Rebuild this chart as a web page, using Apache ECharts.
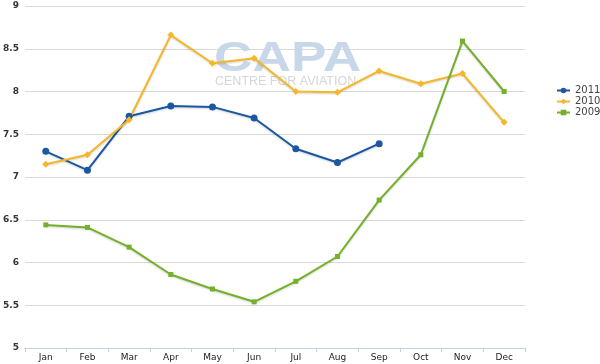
<!DOCTYPE html>
<html>
<head>
<meta charset="utf-8">
<script src="https://cdn.jsdelivr.net/npm/echarts@6/dist/echarts.min.js"></script>
<style>html,body{margin:0;padding:0;background:#fff}#c{width:600px;height:364px}</style>
</head>
<body>
<div id="c"></div>
<script>
var months = ['Jan','Feb','Mar','Apr','May','Jun','Jul','Aug','Sep','Oct','Nov','Dec'];
var s2011 = [7.30, 7.08, 7.71, 7.83, 7.82, 7.69, 7.33, 7.17, 7.39];
var s2010 = [7.15, 7.26, 7.67, 8.66, 8.33, 8.39, 8.00, 7.99, 8.24, 8.09, 8.21, 7.64];
var s2009 = [6.44, 6.41, 6.18, 5.86, 5.69, 5.54, 5.78, 6.07, 6.73, 7.26, 8.59, 8.00];
var yTicks = [5, 5.5, 6, 6.5, 7, 7.5, 8, 8.5, 9];

var chart = echarts.init(document.getElementById('c'), null, {renderer: 'canvas'});
var font = 'DejaVu Sans';
function line(name, data, color, symbol, size) {
  return {
    name: name, type: 'line', data: data, symbol: symbol, symbolSize: size,
    showSymbol: true,
    lineStyle: {color: color, width: 2, shadowColor: 'rgba(0,0,0,0.18)', shadowBlur: 2, shadowOffsetY: 1},
    itemStyle: {color: color},
    emphasis: {disabled: true}, animation: false, z: 3
  };
}
chart.setOption({
  animation: false,
  grid: {left: 23, right: 75, top: 6, bottom: 16, containLabel: false},
  graphic: [
    {type: 'text', x: 214, y: 38, scaleX: 1.27, z: 1,
     style: {text: 'CAPA', font: 'bold 42px "Liberation Sans"', fill: '#c8d8ea'}},
    {type: 'text', x: 215, y: 75, z: 1,
     style: {text: 'CENTRE FOR AVIATION', font: '12.5px "Liberation Sans"', fill: '#d6d6d6'}}
  ],
  legend: {
    orient: 'vertical', left: 556, top: 85, padding: 0, itemGap: 0, itemWidth: 13, itemHeight: 7,
    textStyle: {fontFamily: font, fontSize: 10, lineHeight: 11, color: '#444'},
    data: ['2011', '2010', '2009']
  },
  xAxis: {
    type: 'category', data: months, boundaryGap: true,
    axisLine: {lineStyle: {color: '#c3d1df'}},
    axisTick: {show: true, alignWithLabel: false, length: 4, lineStyle: {color: '#c3d1df'}},
    axisLabel: {fontFamily: font, fontSize: 9, color: '#222', margin: 5}
  },
  yAxis: {
    type: 'value', min: yTicks[0], max: yTicks[yTicks.length - 1], interval: 0.5,
    axisLine: {show: false}, axisTick: {show: false},
    splitLine: {lineStyle: {color: '#d9d9d9', width: 1}},
    axisLabel: {fontFamily: font, fontSize: 9, fontWeight: 'bold', color: '#333', margin: 6}
  },
  series: [
    line('2011', s2011, '#1b57a3', 'circle', 7),
    line('2010', s2010, '#f4b728', 'diamond', 7),
    line('2009', s2009, '#74b12a', 'rect', 5)
  ]
});
</script>
</body>
</html>
